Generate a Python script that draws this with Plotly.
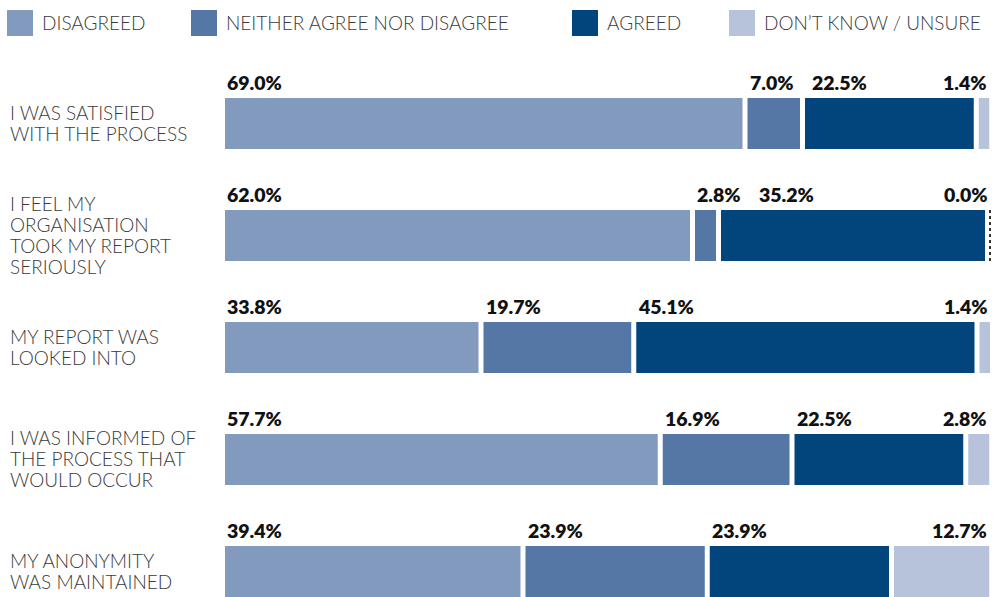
import plotly.graph_objects as go

# Survey statements (top to bottom) and response shares in percent
statements = [
    "I WAS SATISFIED<br>WITH THE PROCESS",
    "I FEEL MY<br>ORGANISATION<br>TOOK MY REPORT<br>SERIOUSLY",
    "MY REPORT WAS<br>LOOKED INTO",
    "I WAS INFORMED OF<br>THE PROCESS THAT<br>WOULD OCCUR",
    "MY ANONYMITY<br>WAS MAINTAINED",
]
responses = ["DISAGREED", "NEITHER AGREE NOR DISAGREE", "AGREED", "DON\u2019T KNOW / UNSURE"]
disagreed = [69.0, 62.0, 33.8, 57.7, 39.4]
neither = [7.0, 2.8, 19.7, 16.9, 23.9]
agreed = [22.5, 35.2, 45.1, 22.5, 23.9]
unsure = [1.4, 0.0, 1.4, 2.8, 12.7]

colors = ["#839ABF", "#5477A6", "#02457C", "#B7C3DB"]
series = [disagreed, neither, agreed, unsure]

GAP = 0.667          # white gap between segments, in percent units
PX_PER_PCT = 7.5
LEFT = 225
W, H = 995, 597
plot_w = W - LEFT
CHAR_PX = 11.5       # rough width of one value-label character
LABEL_PAD = 16

label_font = dict(family="Lato", size=19, color="#3a3a3a", weight=300)
value_font = dict(family="Lato", size=19.5, color="#111111", weight=800)

fig = go.Figure()
rows = list(range(len(statements)))
annotations = []

bases_all = []
for j, vals in enumerate(series):
    bases_all.append([sum(series[k][i] for k in range(j)) + j * GAP for i in rows])

for j, (name, vals, col) in enumerate(zip(responses, series, colors)):
    bases = bases_all[j]
    fig.add_trace(go.Bar(
        orientation="h", y=rows, x=vals, base=bases, name=name,
        marker=dict(color=col, line=dict(width=0)), width=0.455,
        showlegend=False, hoverinfo="skip",
    ))
    for i in rows:
        if vals[i] == 0:
            fig.add_trace(go.Scatter(
                x=[bases[i], bases[i]], y=[i - 0.2275, i + 0.2275],
                mode="lines", line=dict(color="#333333", width=2, dash="dot"),
                showlegend=False, hoverinfo="skip",
            ))

# Value labels above each segment; push a label right if it would collide
for i in rows:
    prev_right = -1e9
    for j, vals in enumerate(series):
        last = j == len(series) - 1
        text = f"{vals[i]:.1f}%"
        if last:
            annotations.append(dict(
                x=bases_all[j][i] + vals[i], y=i, xref="x", yref="y",
                text=text, showarrow=False, xanchor="right", yanchor="middle",
                yshift=41, font=value_font,
            ))
            continue
        left_px = bases_all[j][i] * PX_PER_PCT
        shift = max(0, prev_right + LABEL_PAD - left_px)
        annotations.append(dict(
            x=bases_all[j][i], y=i, xref="x", yref="y",
            text=text, showarrow=False, xanchor="left", yanchor="middle",
            xshift=shift, yshift=41, font=value_font,
        ))
        prev_right = left_px + shift + len(text) * CHAR_PX

# Statement labels, one annotation per line for tighter leading
LINE_PITCH = 21
for i, s in enumerate(statements):
    lines = s.split("<br>")
    n = len(lines)
    for k, ln in enumerate(lines):
        annotations.append(dict(
            x=(8 - LEFT) / plot_w, y=i, xref="paper", yref="y",
            text=ln, showarrow=False, xanchor="left", yanchor="middle",
            yshift=((n - 1) / 2 - k) * LINE_PITCH + 1, font=label_font,
        ))

# Legend built from swatches and labels along the top
shapes = []
legend_x = [7, 191, 572, 729]
for name, col, lx in zip(responses, colors, legend_x):
    shapes.append(dict(
        type="rect", xref="paper", yref="paper",
        x0=(lx - LEFT) / plot_w, x1=(lx + 26 - LEFT) / plot_w,
        y0=1 + (60 - 10) / (H - 60), y1=1 + (60 - 36) / (H - 60),
        fillcolor=col, line=dict(width=0),
    ))
    annotations.append(dict(
        x=(lx + 33 - LEFT) / plot_w, y=1 + (60 - 23) / (H - 60),
        xref="paper", yref="paper", text=name, showarrow=False,
        xanchor="left", yanchor="middle", font=label_font,
    ))

fig.update_layout(
    width=W, height=H,
    margin=dict(l=LEFT, r=0, t=60, b=0),
    plot_bgcolor="white", paper_bgcolor="white",
    barmode="overlay",
    xaxis=dict(range=[0, plot_w / PX_PER_PCT], visible=False, fixedrange=True),
    yaxis=dict(range=[4 + 25.5 / 112, -63.5 / 112], visible=False, fixedrange=True),
    annotations=annotations, shapes=shapes,
    showlegend=False,
)

fig.write_html("out.html")
